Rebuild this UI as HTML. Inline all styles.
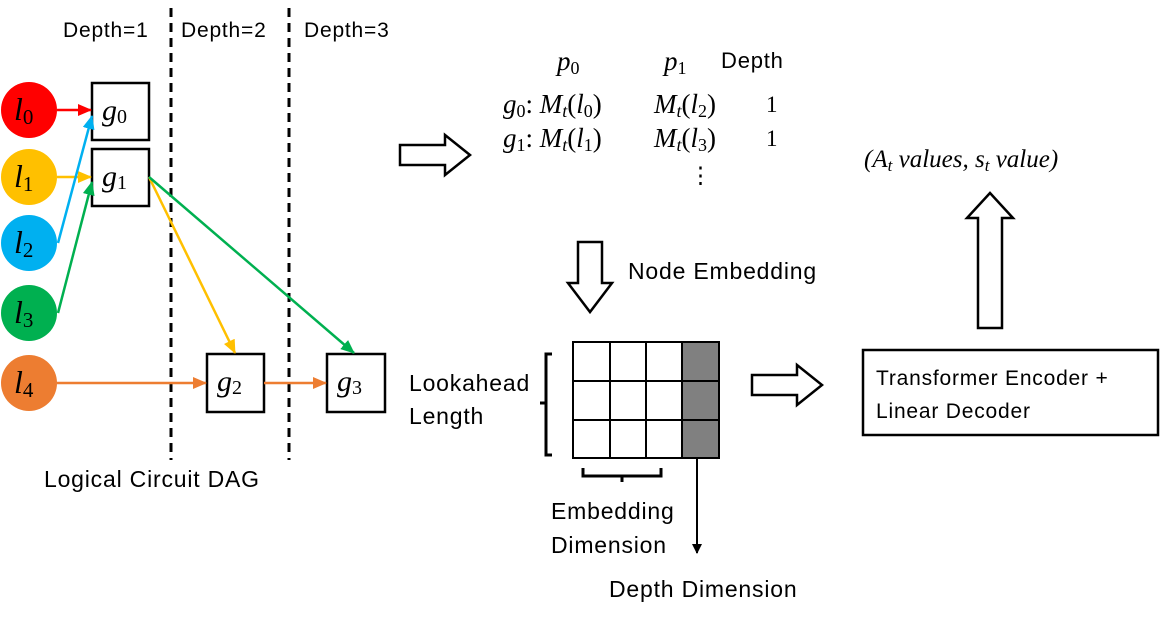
<!DOCTYPE html>
<html><head><style>
body{margin:0;background:#fff;}
.s{font-family:"Liberation Sans",sans-serif;font-size:23px;letter-spacing:0.8px;}
.m,.m text{font-family:"Liberation Serif",serif;font-style:italic;}
</style></head><body>
<svg width="1163" height="624" viewBox="0 0 1163 624" xmlns="http://www.w3.org/2000/svg">
<defs>
<marker id="ar" markerWidth="14" markerHeight="12" refX="13" refY="6" orient="auto" markerUnits="userSpaceOnUse"><path d="M0,0L14,6L0,12z" fill="#f00"/></marker>
<marker id="ab" markerWidth="14" markerHeight="12" refX="13" refY="6" orient="auto" markerUnits="userSpaceOnUse"><path d="M0,0L14,6L0,12z" fill="#00b0f0"/></marker>
<marker id="ay" markerWidth="14" markerHeight="12" refX="13" refY="6" orient="auto" markerUnits="userSpaceOnUse"><path d="M0,0L14,6L0,12z" fill="#ffc000"/></marker>
<marker id="ag" markerWidth="14" markerHeight="12" refX="13" refY="6" orient="auto" markerUnits="userSpaceOnUse"><path d="M0,0L14,6L0,12z" fill="#00b050"/></marker>
<marker id="ao" markerWidth="14" markerHeight="12" refX="13" refY="6" orient="auto" markerUnits="userSpaceOnUse"><path d="M0,0L14,6L0,12z" fill="#ed7d31"/></marker>
<marker id="ak" markerWidth="10" markerHeight="10" refX="9" refY="5" orient="auto" markerUnits="userSpaceOnUse"><path d="M0,0L10,5L0,10z" fill="#000"/></marker>
</defs>
<g class="s" style="font-size:21px">
<text x="63" y="37">Depth=1</text><text x="181" y="37">Depth=2</text><text x="304" y="37">Depth=3</text>
</g>
<line x1="171" y1="8" x2="171" y2="460" stroke="#000" stroke-width="3" stroke-dasharray="9,6"/>
<line x1="289" y1="8" x2="289" y2="460" stroke="#000" stroke-width="3" stroke-dasharray="9,6"/>
<circle cx="29" cy="110" r="28" fill="#f00"/>
<circle cx="29" cy="177" r="28" fill="#ffc000"/>
<circle cx="29" cy="243" r="28" fill="#00b0f0"/>
<circle cx="29" cy="313" r="28" fill="#00b050"/>
<circle cx="29" cy="383" r="28" fill="#ed7d31"/>
<g class="m" font-size="32">
<text x="14" y="120">l<tspan font-size="21" font-style="normal" dy="4">0</tspan></text>
<text x="14" y="187">l<tspan font-size="21" font-style="normal" dy="4">1</tspan></text>
<text x="14" y="253">l<tspan font-size="21" font-style="normal" dy="4">2</tspan></text>
<text x="14" y="323">l<tspan font-size="21" font-style="normal" dy="4">3</tspan></text>
<text x="14" y="393">l<tspan font-size="21" font-style="normal" dy="4">4</tspan></text>
</g>
<g fill="#fff" stroke="#000" stroke-width="2.5">
<rect x="92" y="83" width="57" height="57"/><rect x="92" y="149" width="57" height="57"/>
<rect x="207" y="354" width="57" height="58"/><rect x="327" y="354" width="58" height="58"/>
</g>
<g class="m" font-size="30">
<text x="102" y="120">g<tspan font-size="20" font-style="normal" dy="3">0</tspan></text>
<text x="102" y="186">g<tspan font-size="20" font-style="normal" dy="3">1</tspan></text>
<text x="217" y="391">g<tspan font-size="20" font-style="normal" dy="3">2</tspan></text>
<text x="337" y="391">g<tspan font-size="20" font-style="normal" dy="3">3</tspan></text>
</g>
<g stroke-width="2.5" fill="none">
<line x1="57" y1="110" x2="91" y2="110" stroke="#f00" marker-end="url(#ar)"/>
<line x1="57" y1="177" x2="91" y2="177" stroke="#ffc000" marker-end="url(#ay)"/>
<line x1="58" y1="243" x2="92" y2="116" stroke="#00b0f0" marker-end="url(#ab)"/>
<line x1="58" y1="313" x2="92" y2="182" stroke="#00b050" marker-end="url(#ag)"/>
<line x1="57" y1="383" x2="206" y2="383" stroke="#ed7d31" marker-end="url(#ao)"/>
<line x1="264" y1="383" x2="326" y2="383" stroke="#ed7d31" marker-end="url(#ao)"/>
<line x1="149" y1="177" x2="235" y2="353" stroke="#ffc000" marker-end="url(#ay)"/>
<line x1="149" y1="177" x2="354" y2="353" stroke="#00b050" marker-end="url(#ag)"/>
</g>
<text x="44" y="487" class="s">Logical Circuit DAG</text>
<g fill="#fff" stroke="#000" stroke-width="2.5">
<path d="M400,145 H445 V135 L470,155 L445,175 V165 H400Z"/>
<path d="M752,375 H797 V365 L822,385 L797,405 V395 H752Z"/>
<path d="M578,242 V283 H568 L590,312 L612,283 H602 V242Z"/>
<path d="M978,328 V218 H967 L990,193 L1013,218 H1002 V328Z"/>
</g>
<g class="m" font-size="27">
<text x="557" y="70">p<tspan font-size="18" font-style="normal" dy="4">0</tspan></text>
<text x="664" y="70">p<tspan font-size="18" font-style="normal" dy="4">1</tspan></text>
<text x="503" y="113">g<tspan font-size="18" font-style="normal" dy="4">0</tspan><tspan dy="-4" font-style="normal">: </tspan>M<tspan font-size="18" dy="4">t</tspan><tspan dy="-4" font-style="normal">(</tspan>l<tspan font-size="18" font-style="normal" dy="4">0</tspan><tspan dy="-4" font-style="normal">)</tspan></text>
<text x="503" y="147">g<tspan font-size="18" font-style="normal" dy="4">1</tspan><tspan dy="-4" font-style="normal">: </tspan>M<tspan font-size="18" dy="4">t</tspan><tspan dy="-4" font-style="normal">(</tspan>l<tspan font-size="18" font-style="normal" dy="4">1</tspan><tspan dy="-4" font-style="normal">)</tspan></text>
<text x="654" y="113">M<tspan font-size="18" dy="4">t</tspan><tspan dy="-4" font-style="normal">(</tspan>l<tspan font-size="18" font-style="normal" dy="4">2</tspan><tspan dy="-4" font-style="normal">)</tspan></text>
<text x="654" y="147">M<tspan font-size="18" dy="4">t</tspan><tspan dy="-4" font-style="normal">(</tspan>l<tspan font-size="18" font-style="normal" dy="4">3</tspan><tspan dy="-4" font-style="normal">)</tspan></text>
</g>
<text x="721" y="68" class="s" style="font-size:22px">Depth</text>
<g font-family="Liberation Serif,serif" font-size="23"><text x="766" y="112">1</text><text x="766" y="146">1</text><text x="689" y="183">⋮</text></g>
<text x="864" y="167" class="m" font-size="25">(A<tspan font-size="17" dy="4">t</tspan><tspan dy="-4"> values, s</tspan><tspan font-size="17" dy="4">t</tspan><tspan dy="-4"> value)</tspan></text>
<text x="628" y="279" class="s">Node Embedding</text>
<rect x="682" y="342" width="37" height="116" fill="#808080"/>
<g stroke="#000" stroke-width="2" fill="none">
<rect x="573" y="342" width="146" height="116"/>
<line x1="610" y1="342" x2="610" y2="458"/><line x1="646" y1="342" x2="646" y2="458"/><line x1="682" y1="342" x2="682" y2="458"/>
<line x1="573" y1="381" x2="719" y2="381"/><line x1="573" y1="420" x2="719" y2="420"/>
<path d="M552,354 H546 V403 H540 M546,403 V455 H552" stroke-width="3"/>
<path d="M583,468 V476 H622 V482 M622,476 H661 V468" stroke-width="3"/>
<line x1="697" y1="458" x2="697" y2="553" marker-end="url(#ak)"/>
</g>
<g class="s">
<text x="409" y="391">Lookahead</text><text x="409" y="424">Length</text>
<text x="551" y="519">Embedding</text><text x="551" y="553">Dimension</text>
<text x="609" y="597">Depth Dimension</text>
</g>
<rect x="863" y="350" width="295" height="85" fill="#fff" stroke="#000" stroke-width="2.5"/>
<text x="876" y="385" class="s" style="font-size:21px">Transformer Encoder +</text>
<text x="876" y="418" class="s" style="font-size:21px">Linear Decoder</text>
</svg>
</body></html>
